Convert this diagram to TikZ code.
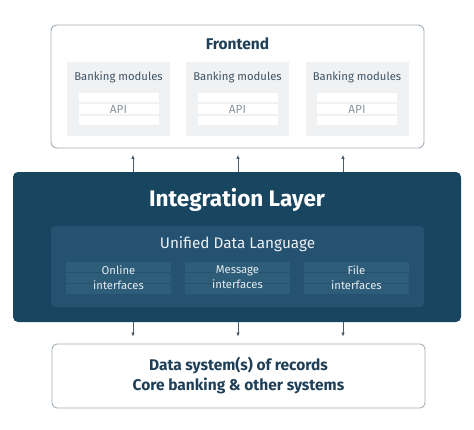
\documentclass[tikz,border=0pt]{standalone}
\usepackage{fontspec}
\setmainfont{Fira Sans}
\usetikzlibrary{arrows.meta}
\definecolor{navy}{HTML}{18455F}
\definecolor{udlblue}{HTML}{245270}
\definecolor{ifblue}{HTML}{2E5D7A}
\definecolor{frame}{HTML}{A3ADB5}
\definecolor{modgrey}{HTML}{F0F1F3}
\definecolor{txtnavy}{HTML}{1E3F57}
\definecolor{modtxt}{HTML}{3E5466}
\definecolor{apigrey}{HTML}{8C969E}
\definecolor{linkgrey}{HTML}{4B5B67}
\begin{document}
\begin{tikzpicture}[x=1pt,y=1pt]
\tikzstyle{every node}+=[inner sep=0pt]
\tikzstyle{frontbox}=[draw=frame,line width=0.9pt,rounded corners=6pt,fill=white,minimum width=373pt,minimum height=123pt]
\tikzstyle{modbox}=[fill=modgrey,minimum width=103pt,minimum height=74pt]
\tikzstyle{apistrip}=[fill=white,minimum width=80pt,minimum height=9.5pt]
\tikzstyle{integbox}=[fill=navy,rounded corners=5pt,minimum width=448pt,minimum height=150pt]
\tikzstyle{udlbox}=[fill=udlblue,rounded corners=4pt,minimum width=373pt,minimum height=81pt]
\tikzstyle{ifstrip}=[fill=ifblue,minimum width=105pt,minimum height=10pt]
\tikzstyle{recbox}=[draw=frame,line width=0.9pt,rounded corners=5pt,fill=white,minimum width=373pt,minimum height=64pt]
\tikzstyle{link}=[draw=linkgrey,line width=0.8pt,-{Latex[length=4pt,width=3.6pt]}]
\tikzstyle{modlabel}=[text=modtxt,font=\fontsize{11.3}{13}\selectfont]
\tikzstyle{apilabel}=[text=apigrey,font=\fontsize{11.8}{14}\selectfont]
\tikzstyle{iflabel}=[text=white!88!ifblue,align=center,font=\fontsize{11.3}{15}\selectfont]
\fill [white] (0,0) rectangle (474,-429);
\useasboundingbox (0,0) rectangle (474,-429);
% frontend
\node [frontbox] (front) at (237.5,-86.5) {};
\node [text=txtnavy,font=\fontsize{15.5}{18}\selectfont\bfseries] (fronttitle) at (237.5,-44) {Frontend};
\node [modbox] (mod1) at (118.5,-99) {};
\node [modbox] (mod2) at (237.5,-99) {};
\node [modbox] (mod3) at (357,-99) {};
\node [modlabel] (modtitle1) at (118.5,-77) {Banking modules};
\node [modlabel] (modtitle2) at (237.5,-77) {Banking modules};
\node [modlabel] (modtitle3) at (357,-77) {Banking modules};
\node [apistrip] at (118.5,-97.5) {};
\node [apistrip] at (118.5,-109) {};
\node [apistrip] at (118.5,-120.5) {};
\node [apistrip] at (237.5,-97.5) {};
\node [apistrip] at (237.5,-109) {};
\node [apistrip] at (237.5,-120.5) {};
\node [apistrip] at (357,-97.5) {};
\node [apistrip] at (357,-109) {};
\node [apistrip] at (357,-120.5) {};
\node [apilabel] (api1) at (118.5,-109) {API};
\node [apilabel] (api2) at (237.5,-109) {API};
\node [apilabel] (api3) at (357,-109) {API};
% integration layer
\node [integbox] (integ) at (237,-247) {};
\node [text=white,font=\fontsize{22.5}{26}\selectfont\bfseries] (integtitle) at (237,-200) {Integration Layer};
\node [udlbox] (udl) at (237.5,-266.5) {};
\node [text=white!92!udlblue,font=\fontsize{15.3}{18}\selectfont] (udltitle) at (237.5,-244) {Unified Data Language};
\node [ifstrip] at (118.5,-266.5) {};
\node [ifstrip] at (118.5,-277.5) {};
\node [ifstrip] at (118.5,-288.5) {};
\node [ifstrip] at (237.5,-266.5) {};
\node [ifstrip] at (237.5,-277.5) {};
\node [ifstrip] at (237.5,-288.5) {};
\node [ifstrip] at (356.5,-266.5) {};
\node [ifstrip] at (356.5,-277.5) {};
\node [ifstrip] at (356.5,-288.5) {};
\node [iflabel] (online) at (118.5,-277.5) {Online\\interfaces};
\node [iflabel] (message) at (237.5,-277.5) {Message\\interfaces};
\node [iflabel] (file) at (356.5,-277.5) {File\\interfaces};
% records
\node [recbox] (rec) at (238.5,-376) {};
\node [text=txtnavy,align=center,font=\fontsize{15.5}{20}\selectfont\bfseries] (rectitle) at (238.5,-375.5) {Data system(s) of records\\Core banking \& other systems};
% connectors
\coordinate (c1) at (133,0);
\coordinate (c2) at (238,0);
\coordinate (c3) at (343,0);
\draw [link,shorten >=6.5pt] (c1 |- integ.north) -- (c1 |- front.south);
\draw [link,shorten >=6.5pt] (c2 |- integ.north) -- (c2 |- front.south);
\draw [link,shorten >=6.5pt] (c3 |- integ.north) -- (c3 |- front.south);
\draw [link,shorten >=7pt] (c1 |- integ.south) -- (c1 |- rec.north);
\draw [link,shorten >=7pt] (c2 |- integ.south) -- (c2 |- rec.north);
\draw [link,shorten >=7pt] (c3 |- integ.south) -- (c3 |- rec.north);
\end{tikzpicture}
\end{document}
